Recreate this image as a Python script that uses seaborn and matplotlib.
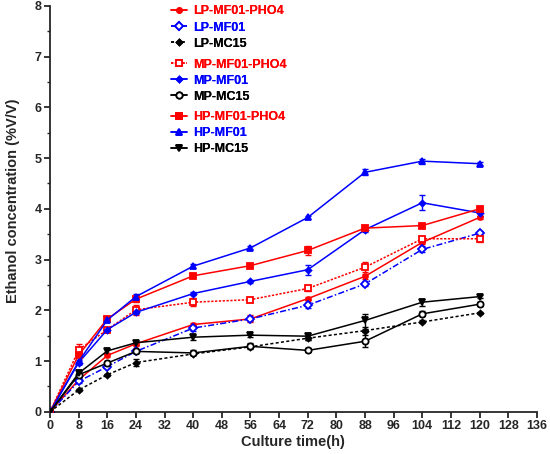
import matplotlib
matplotlib.use("Agg")
import matplotlib.pyplot as plt
from matplotlib.lines import Line2D
import seaborn as sns
import pandas as pd

# Culture time points (h)
time = [0, 8, 16, 24, 40, 56, 72, 88, 104, 120]

# Ethanol concentration (%V/V)
lp_mf01_pho4 = [0, 0.63, 1.11, 1.34, 1.72, 1.83, 2.23, 2.67, 3.34, 3.83]
lp_mf01 = [0, 0.60, 0.89, 1.19, 1.65, 1.83, 2.10, 2.52, 3.20, 3.52]
lp_mc15 = [0, 0.43, 0.73, 0.97, 1.14, 1.28, 1.45, 1.60, 1.77, 1.95]
mp_mf01_pho4 = [0, 1.22, 1.62, 2.01, 2.16, 2.21, 2.43, 2.85, 3.41, 3.41]
mp_mf01 = [0, 0.97, 1.62, 1.96, 2.33, 2.57, 2.80, 3.59, 4.12, 3.92]
mp_mc15 = [0, 0.73, 0.96, 1.19, 1.16, 1.29, 1.21, 1.39, 1.93, 2.12]
hp_mf01_pho4 = [0, 1.12, 1.83, 2.22, 2.68, 2.88, 3.18, 3.62, 3.67, 4.00]
hp_mf01 = [0, 0.99, 1.81, 2.27, 2.87, 3.23, 3.83, 4.72, 4.94, 4.89]
hp_mc15 = [0, 0.76, 1.20, 1.36, 1.47, 1.51, 1.49, 1.80, 2.16, 2.27]

# Error bars (SD), estimated
lp_mf01_pho4_sd = [0, 0.02, 0.03, 0.04, 0.03, 0.07, 0.03, 0.05, 0.03, 0.03]
lp_mf01_sd = [0, 0.03, 0.03, 0.03, 0.05, 0.05, 0.06, 0.05, 0.06, 0.05]
lp_mc15_sd = [0, 0.02, 0.02, 0.07, 0.03, 0.03, 0.03, 0.03, 0.03, 0.02]
mp_mf01_pho4_sd = [0, 0.12, 0.03, 0.10, 0.08, 0.04, 0.05, 0.10, 0.04, 0.07]
mp_mf01_sd = [0, 0.03, 0.03, 0.04, 0.03, 0.03, 0.10, 0.04, 0.15, 0.06]
mp_mc15_sd = [0, 0.04, 0.04, 0.04, 0.05, 0.06, 0.04, 0.12, 0.05, 0.04]
hp_mf01_pho4_sd = [0, 0.05, 0.03, 0.05, 0.03, 0.03, 0.08, 0.05, 0.03, 0.05]
hp_mf01_sd = [0, 0.03, 0.03, 0.06, 0.04, 0.03, 0.03, 0.06, 0.05, 0.03]
hp_mc15_sd = [0, 0.04, 0.04, 0.04, 0.05, 0.03, 0.07, 0.12, 0.07, 0.03]

labels = ["LP-MF01-PHO4", "LP-MF01", "LP-MC15",
          "MP-MF01-PHO4", "MP-MF01", "MP-MC15",
          "HP-MF01-PHO4", "HP-MF01", "HP-MC15"]
means = [lp_mf01_pho4, lp_mf01, lp_mc15,
         mp_mf01_pho4, mp_mf01, mp_mc15,
         hp_mf01_pho4, hp_mf01, hp_mc15]
sds = [lp_mf01_pho4_sd, lp_mf01_sd, lp_mc15_sd,
       mp_mf01_pho4_sd, mp_mf01_sd, mp_mc15_sd,
       hp_mf01_pho4_sd, hp_mf01_sd, hp_mc15_sd]

RED, BLUE, BLACK = "#ff0000", "#0000ff", "#000000"
# colour, linestyle, marker, filled, marker size
styles = [
    (RED, "-", "o", True, 3.5),
    (BLUE, (0, (4, 1.5, 1, 1.5)), "D", False, 4),
    (BLACK, (0, (2, 1.5)), "D", True, 3),
    (RED, (0, (1.5, 1)), "s", False, 4.5),
    (BLUE, "-", "D", True, 3),
    (BLACK, "-", "o", False, 4.5),
    (RED, "-", "s", True, 5),
    (BLUE, "-", "^", True, 5),
    (BLACK, "-", "v", True, 3.8),
]

sns.set_style("ticks")
plt.rcParams["font.family"] = ["Liberation Sans", "DejaVu Sans"]
plt.rcParams["font.weight"] = "bold"

fig = plt.figure(figsize=(5.5, 4.54), dpi=100)
ax = fig.add_axes([0.091, 0.093, 0.885, 0.894])

df = pd.DataFrame({"time": time})
handles = []
for lab, m, sd, (col, ls, mk, filled, ms) in zip(labels, means, sds, styles):
    df[lab] = m
    fc = col if filled else "white"
    ax.errorbar(time, m, yerr=sd, fmt="none", ecolor=col, elinewidth=1.0,
                capsize=2.5, capthick=1.0, zorder=2)
    sns.lineplot(data=df, x="time", y=lab, ax=ax, color=col, linestyle=ls,
                 linewidth=1.1, marker=mk, markersize=ms, markerfacecolor=fc,
                 markeredgecolor=col, markeredgewidth=1.3, zorder=3)
    handles.append(Line2D([], [], color=col, linestyle=ls, linewidth=1.1,
                          marker=mk, markersize=ms, markerfacecolor=fc,
                          markeredgecolor=col, markeredgewidth=1.3))

ax.set_xlim(0, 136)
ax.set_ylim(0, 8)
ax.set_xticks(range(0, 137, 8))
ax.set_yticks(range(0, 9))
ax.set_yticks([i + 0.5 for i in range(8)], minor=True)
ax.tick_params(axis="both", which="major", length=4, width=1.3, labelsize=9, pad=2)
ax.tick_params(axis="y", which="minor", length=2.5, width=1.0)
for s in ["left", "bottom"]:
    ax.spines[s].set_linewidth(1.3)
sns.despine(ax=ax)
for t in ax.get_xticklabels() + ax.get_yticklabels():
    t.set_fontweight("bold")

ax.set_xlabel("Culture time(h)", fontsize=10.5, fontweight="bold", labelpad=2)
ax.set_ylabel("Ethanol concentration (%V/V)", fontsize=10.5, fontweight="bold")
ax.yaxis.set_label_coords(-0.062, 0.52)

# three legend groups, coloured text
tops = [0.988, 0.871, 0.755]
for g in range(3):
    hs = handles[g * 3:(g + 1) * 3]
    ls_ = labels[g * 3:(g + 1) * 3]
    leg = fig.legend(hs, ls_, loc="upper left", bbox_to_anchor=(0.31, tops[g]),
                     frameon=False, handlelength=1.3, handletextpad=0.55,
                     labelspacing=0.33, borderpad=0, borderaxespad=0,
                     labelcolor="linecolor", prop={"weight": "bold", "size": 9})
    fig.add_artist(leg)

fig.savefig("out.png", dpi=100)
